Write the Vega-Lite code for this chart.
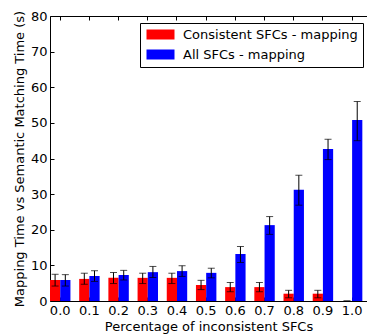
{
  "$schema": "https://vega.github.io/schema/vega-lite/v6.json",
  "autosize": {"type": "none"},
  "padding": {"left": 50, "top": 16, "right": 0, "bottom": 34},
  "width": 317,
  "height": 285,
  "config": {
    "view": {"stroke": null},
    "font": "DejaVu Sans",
    "axis": {
      "labelFont": "DejaVu Sans",
      "titleFont": "DejaVu Sans",
      "labelFontSize": 13,
      "titleFontSize": 13,
      "titleFontWeight": "normal",
      "labelColor": "black",
      "titleColor": "black",
      "domainColor": "black",
      "tickColor": "black",
      "domainWidth": 1,
      "tickWidth": 1,
      "grid": false
    },
    "axisY": {"tickCount": 8, "labelOverlap": false}
  },
  "data": {
    "values": [
      {"x": "0.0", "series": "Consistent SFCs - mapping", "value": 5.9, "lo": 4.2, "hi": 7.5},
      {"x": "0.1", "series": "Consistent SFCs - mapping", "value": 6.2, "lo": 4.7, "hi": 7.8},
      {"x": "0.2", "series": "Consistent SFCs - mapping", "value": 6.5, "lo": 4.9, "hi": 8.0},
      {"x": "0.3", "series": "Consistent SFCs - mapping", "value": 6.5, "lo": 4.9, "hi": 7.8},
      {"x": "0.4", "series": "Consistent SFCs - mapping", "value": 6.5, "lo": 4.9, "hi": 7.8},
      {"x": "0.5", "series": "Consistent SFCs - mapping", "value": 4.5, "lo": 3.2, "hi": 5.8},
      {"x": "0.6", "series": "Consistent SFCs - mapping", "value": 3.9, "lo": 2.6, "hi": 5.2},
      {"x": "0.7", "series": "Consistent SFCs - mapping", "value": 3.9, "lo": 2.6, "hi": 5.2},
      {"x": "0.8", "series": "Consistent SFCs - mapping", "value": 2.05, "lo": 0.9, "hi": 3.0},
      {"x": "0.9", "series": "Consistent SFCs - mapping", "value": 2.05, "lo": 0.9, "hi": 3.0},
      {"x": "1.0", "series": "Consistent SFCs - mapping", "value": 0, "lo": 0, "hi": 0},
      {"x": "0.0", "series": "All SFCs - mapping", "value": 5.9, "lo": 4.2, "hi": 7.4},
      {"x": "0.1", "series": "All SFCs - mapping", "value": 7.0, "lo": 5.5, "hi": 8.5},
      {"x": "0.2", "series": "All SFCs - mapping", "value": 7.3, "lo": 5.9, "hi": 8.6},
      {"x": "0.3", "series": "All SFCs - mapping", "value": 8.1, "lo": 6.6, "hi": 9.7},
      {"x": "0.4", "series": "All SFCs - mapping", "value": 8.4, "lo": 6.9, "hi": 9.9},
      {"x": "0.5", "series": "All SFCs - mapping", "value": 7.9, "lo": 6.5, "hi": 9.2},
      {"x": "0.6", "series": "All SFCs - mapping", "value": 13.2, "lo": 10.8, "hi": 15.3},
      {"x": "0.7", "series": "All SFCs - mapping", "value": 21.3, "lo": 18.7, "hi": 23.7},
      {"x": "0.8", "series": "All SFCs - mapping", "value": 31.2, "lo": 26.9, "hi": 35.3},
      {"x": "0.9", "series": "All SFCs - mapping", "value": 42.7, "lo": 39.7, "hi": 45.4},
      {"x": "1.0", "series": "All SFCs - mapping", "value": 50.8, "lo": 45.0, "hi": 56.0}
    ]
  },
  "encoding": {
    "x": {
      "field": "x",
      "type": "nominal",
      "sort": null,
      "scale": {"paddingInner": 0.3, "paddingOuter": 0.08, "align": 0},
      "axis": null
    },
    "xOffset": {
      "field": "series",
      "type": "nominal",
      "sort": ["Consistent SFCs - mapping", "All SFCs - mapping"],
      "scale": {"paddingInner": 0, "paddingOuter": 0}
    },
    "y": {
      "field": "value",
      "type": "quantitative",
      "scale": {"domain": [0, 80], "nice": false},
      "axis": {
        "title": "Mapping Time vs Semantic Matching Time (s)",
        "tickCount": 8,
        "tickSize": -4,
        "labelPadding": 7,
        "titlePadding": 4
      }
    }
  },
  "layer": [
    {
      "mark": {"type": "bar"},
      "encoding": {
        "x": {
          "field": "x",
          "type": "nominal",
          "sort": null,
          "axis": {
            "orient": "bottom",
            "title": "Percentage of inconsistent SFCs",
            "labelAngle": 0,
            "tickSize": -4,
            "labelPadding": 7,
            "titlePadding": 3
          }
        },
        "color": {
          "field": "series",
          "type": "nominal",
          "sort": ["Consistent SFCs - mapping", "All SFCs - mapping"],
          "scale": {"domain": ["Consistent SFCs - mapping", "All SFCs - mapping"], "range": ["#ff0000", "#0000ff"]},
          "legend": {
            "orient": "none",
            "legendX": 90,
            "legendY": 7,
            "title": null,
            "symbolType": "M-2.8,-1H2.8V1H-2.8Z",
            "symbolSize": 100,
            "symbolOffset": 9,
            "symbolStrokeWidth": 0,
            "labelOffset": 16,
            "padding": 5,
            "rowPadding": 6,
            "strokeColor": "black",
            "fillColor": "white",
            "labelFontSize": 13,
            "labelFont": "DejaVu Sans",
            "labelColor": "black",
            "labelLimit": 0
          }
        }
      }
    },
    {
      "mark": {"type": "rule", "color": "black", "strokeWidth": 1},
      "encoding": {
        "x": {
          "field": "x",
          "type": "nominal",
          "sort": null,
          "axis": {"orient": "top", "labels": false, "title": null, "tickSize": -4}
        },
        "y": {"field": "lo", "type": "quantitative"},
        "y2": {"field": "hi"}
      }
    },
    {
      "mark": {"type": "tick", "color": "black", "size": 7, "thickness": 1},
      "encoding": {"y": {"field": "lo", "type": "quantitative"}}
    },
    {
      "mark": {"type": "tick", "color": "black", "size": 7, "thickness": 1},
      "encoding": {"y": {"field": "hi", "type": "quantitative"}}
    }
  ],
  "resolve": {"axis": {"x": "independent"}}
}
